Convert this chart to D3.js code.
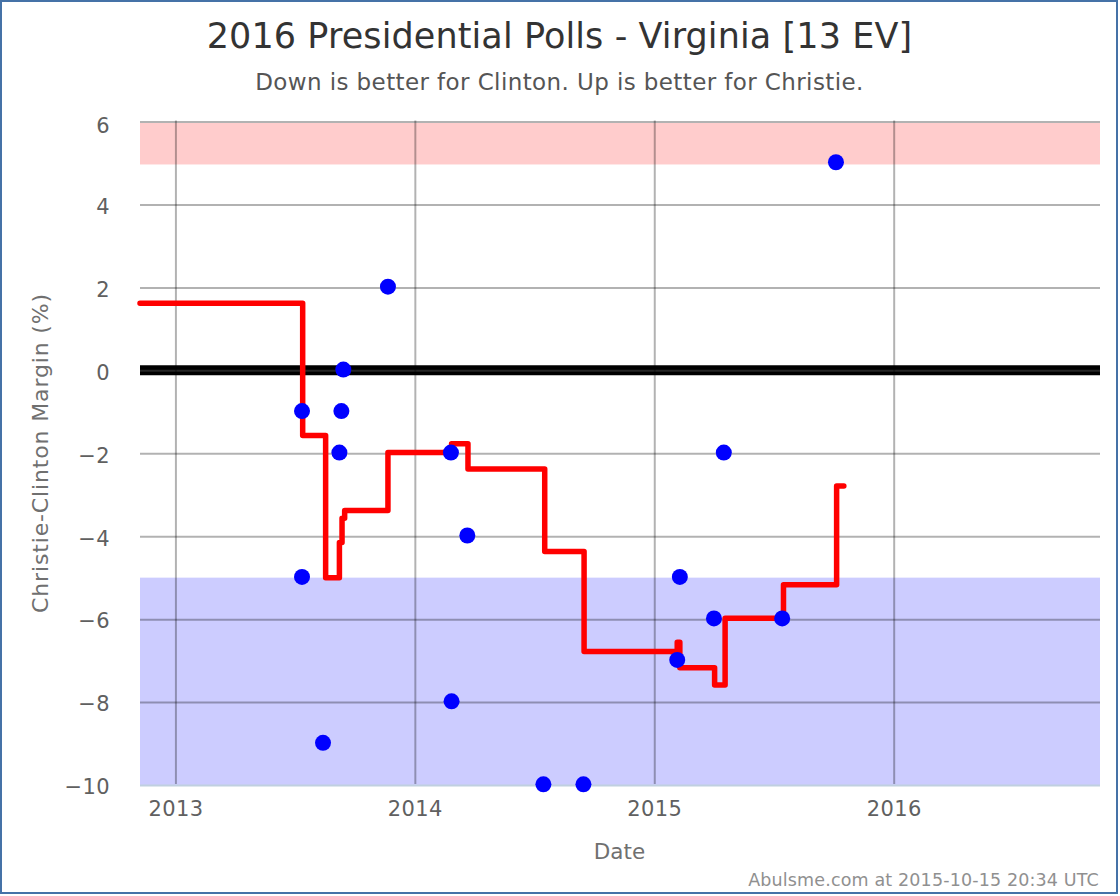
<!DOCTYPE html>
<html>
<head>
<meta charset="utf-8">
<script src="https://cdn.jsdelivr.net/npm/d3@7"></script>
<style>
html, body { margin: 0; padding: 0; background: #fff; }
svg { display: block; font-family: "DejaVu Sans", sans-serif; }
</style>
</head>
<body>
<div id="chart"></div>
<script>
const titleText = "2016 Presidential Polls - Virginia [13 EV]";
const subtitleText = "Down is better for Clinton. Up is better for Christie.";
const creditText = "Abulsme.com at 2015-10-15 20:34 UTC";
const xLabel = "Date";
const yLabel = "Christie-Clinton Margin (%)";

const xDomain = ["2012-11-08", "2016-11-09"];
const yDomain = [-10, 6];
const yTicks = [-10, -8, -6, -4, -2, 0, 2, 4, 6];
const xTicks = ["2013-01-01", "2014-01-01", "2015-01-01", "2016-01-01"];

const bandRed = [5, 6];
const bandBlue = [-10, -5];

const pollDates = ["2013-07-13", "2013-07-13", "2013-08-14", "2013-09-08", "2013-09-11", "2013-09-14",
    "2013-11-21", "2014-02-25", "2014-02-26", "2014-03-22", "2014-07-16", "2014-09-15",
    "2015-02-05", "2015-02-09", "2015-04-02", "2015-04-17", "2015-07-15", "2015-10-05"];
const pollValues = [-1, -5, -9, -2, -1, 0, 2, -2, -8, -4, -10, -10, -7, -5, -6, -2, -6, 5];

const avgDates = ["2012-11-08", "2013-07-14", "2013-08-18", "2013-09-08", "2013-09-12", "2013-09-16",
    "2013-11-21", "2014-02-26", "2014-03-23", "2014-07-18", "2014-09-16", "2015-02-05",
    "2015-02-09", "2015-04-03", "2015-04-19", "2015-07-17", "2015-10-06", "2015-10-17"];
const avgValues = [1.62, -1.57, -5, -4.15, -3.57, -3.38, -1.98, -1.77, -2.38, -4.37, -6.78, -6.56,
    -7.17, -7.59, -5.98, -5.17, -2.79, -2.79];

const width = 1120, height = 896;
const plotLeft = 140, plotRight = 1100;
const parseDate = d3.utcParse("%Y-%m-%d");

const x = d3.scaleUtc().domain(xDomain.map(parseDate)).range([plotLeft, plotRight - 1]);
const y = d3.scaleLinear().domain(yDomain).range([785, 121.5]);

const svg = d3.select("#chart").append("svg")
    .attr("width", width)
    .attr("height", height);

svg.append("rect")
    .attr("x", 1).attr("y", 1)
    .attr("width", width - 4).attr("height", height - 4)
    .attr("fill", "#fff")
    .attr("stroke", "#4572a7")
    .attr("stroke-width", 2);

// shaded bands
svg.append("rect")
    .attr("x", plotLeft).attr("width", plotRight - plotLeft)
    .attr("y", y(bandRed[1]) + 1.5)
    .attr("height", y(bandRed[0]) - y(bandRed[1]))
    .attr("fill", "#ffcccc");
svg.append("rect")
    .attr("x", plotLeft).attr("width", plotRight - plotLeft)
    .attr("y", y(bandBlue[1]))
    .attr("height", y(bandBlue[0]) - y(bandBlue[1]))
    .attr("fill", "#ccccff");

// zero line sits under the grid
svg.append("line")
    .attr("x1", plotLeft).attr("x2", plotRight)
    .attr("y1", y(0)).attr("y2", y(0))
    .attr("stroke", "#000")
    .attr("stroke-width", 10);

const yAxis = d3.axisLeft(y).tickValues(yTicks).tickSize(-(plotRight - plotLeft)).tickPadding(30);
const gy = svg.append("g").attr("transform", `translate(${plotLeft},0)`).call(yAxis);
gy.select(".domain").remove();
gy.selectAll("line")
    .attr("stroke", d => d === -10 ? "#c0d0e0" : d === 0 ? "#fff" : "#000")
    .attr("stroke-opacity", d => d === -10 ? 1 : d === 0 ? 0.15 : 0.3)
    .attr("stroke-width", 2);
gy.selectAll("text").attr("fill", "#606060").attr("font-size", 21).attr("letter-spacing", 0.4)
    .attr("font-family", "DejaVu Sans").attr("dy", d => d === 6 ? "0.52em" : "0.42em");

const xAxis = d3.axisBottom(x).tickValues(xTicks.map(parseDate)).tickFormat(d3.utcFormat("%Y"))
    .tickSize(-(y.range()[0] - y.range()[1])).tickPadding(17);
const gx = svg.append("g").attr("transform", `translate(0,${y.range()[0] - 1})`).call(xAxis);
gx.select(".domain").remove();
gx.selectAll("line").attr("stroke", "#000").attr("stroke-opacity", 0.3).attr("stroke-width", 2);
gx.selectAll("text").attr("fill", "#606060").attr("font-size", 21).attr("letter-spacing", 0.4)
    .attr("font-family", "DejaVu Sans");

// red average line
const avgLine = d3.line()
    .x((d, i) => x(parseDate(avgDates[i])))
    .y(d => y(d))
    .curve(d3.curveStepAfter);
svg.append("path")
    .datum(avgValues)
    .attr("d", avgLine)
    .attr("fill", "none")
    .attr("stroke", "#ff0000")
    .attr("stroke-width", 5.5)
    .attr("stroke-linejoin", "round")
    .attr("stroke-linecap", "round");

svg.selectAll("circle.poll")
    .data(pollValues)
    .join("circle")
    .attr("class", "poll")
    .attr("cx", (d, i) => x(parseDate(pollDates[i])))
    .attr("cy", d => y(d) - 0.7)
    .attr("r", 8)
    .attr("fill", "#0000ff");

// titles
svg.append("text")
    .attr("x", 559.5).attr("y", 48)
    .attr("text-anchor", "middle")
    .attr("font-size", 35)
    .attr("letter-spacing", 0.1)
    .attr("fill", "#333")
    .text(titleText);
svg.append("text")
    .attr("x", 559.5).attr("y", 90)
    .attr("text-anchor", "middle")
    .attr("font-size", 23)
    .attr("letter-spacing", 0.4)
    .attr("fill", "#555")
    .text(subtitleText);
svg.append("text")
    .attr("x", 619.5).attr("y", 859)
    .attr("text-anchor", "middle")
    .attr("font-size", 21.5)
    .attr("fill", "#707070")
    .text(xLabel);
svg.append("text")
    .attr("transform", "translate(48,453) rotate(-90)")
    .attr("text-anchor", "middle")
    .attr("font-size", 22)
    .attr("letter-spacing", 0.85)
    .attr("fill", "#707070")
    .text(yLabel);
svg.append("text")
    .attr("x", 1099).attr("y", 886)
    .attr("text-anchor", "end")
    .attr("font-size", 17.5)
    .attr("letter-spacing", 0.15)
    .attr("fill", "#909090")
    .text(creditText);
</script>
</body>
</html>
